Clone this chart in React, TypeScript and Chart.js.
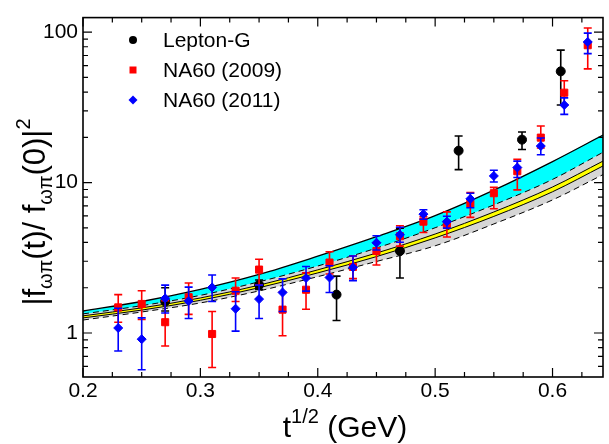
import { useEffect, useRef } from 'react';
import { Chart, registerables } from 'chart.js';

Chart.register(...registerables);

const FONT = '"Liberation Sans", Arial, Helvetica, sans-serif';

// ---- theory bands (x in GeV, y = |F|^2) ----
const bandX = [0.2, 0.25, 0.3, 0.35, 0.4, 0.45, 0.5, 0.55, 0.6, 0.643];
const cyanTop = [1.40, 1.62, 1.95, 2.45, 3.24, 4.37, 6.03, 8.91, 13.8, 20.7];
const greyTop = [1.34, 1.52, 1.78, 2.19, 2.79, 3.67, 5.01, 7.11, 10.5, 15.9];
const yellowUpper = [1.30, 1.47, 1.71, 2.08, 2.63, 3.40, 4.55, 6.38, 9.35, 13.9];
const yellowLower = [1.26, 1.42, 1.65, 2.00, 2.51, 3.22, 4.29, 5.96, 8.69, 12.9];
const greyBottom = [1.22, 1.38, 1.585, 1.905, 2.37, 2.99, 3.80, 5.31, 7.67, 11.3];

// ---- Lepton-G ----
const leptonX = [0.27, 0.35, 0.416, 0.47, 0.52, 0.574, 0.607];
const leptonY = [1.62, 2.09, 1.80, 3.51, 16.3, 19.3, 54.9];
const leptonLo = [1.40, 1.95, 1.21, 2.32, 12.2, 16.6, 32.8];
const leptonHi = [2.00, 2.25, 2.39, 4.98, 20.4, 21.7, 76.0];

// ---- NA60 (2009) ----
const na09X = [0.23, 0.25, 0.27, 0.29, 0.31, 0.33, 0.35, 0.37, 0.39, 0.41, 0.43, 0.45, 0.47, 0.49, 0.51, 0.53, 0.55, 0.57, 0.59, 0.61, 0.63];
const na09Y = [1.48, 1.56, 1.18, 1.73, 0.985, 1.91, 2.64, 1.43, 1.94, 2.94, 2.75, 3.51, 4.4, 5.5, 5.31, 7.24, 8.5, 11.9, 19.9, 39.6, 81.9];
const na09Lo = [1.18, 1.23, 0.82, 1.33, 0.59, 1.62, 2.09, 0.96, 1.44, 2.47, 2.30, 2.83, 3.78, 4.66, 4.35, 5.87, 6.7, 8.95, 17.0, 32.8, 57.0];
const na09Hi = [1.80, 1.91, 1.64, 2.15, 1.39, 2.32, 3.09, 1.88, 2.51, 3.47, 3.25, 3.98, 5.16, 5.93, 6.39, 8.6, 9.3, 14.3, 23.8, 47.5, 106.6];

// ---- NA60 (2011) ----
const na11X = [0.23, 0.25, 0.27, 0.29, 0.31, 0.33, 0.35, 0.37, 0.39, 0.41, 0.43, 0.45, 0.47, 0.49, 0.51, 0.53, 0.55, 0.57, 0.59, 0.61, 0.63];
const na11Y = [1.08, 0.91, 1.70, 1.63, 2.01, 1.45, 1.68, 1.86, 2.32, 2.34, 2.73, 3.98, 4.5, 6.17, 5.5, 7.8, 11.07, 12.6, 17.5, 32.8, 86.1];
const na11Lo = [0.76, 0.57, 1.36, 1.25, 1.62, 1.03, 1.25, 1.39, 1.90, 1.86, 2.23, 3.56, 4.01, 5.7, 4.98, 6.8, 10.1, 10.8, 15.3, 28.4, 72.0];
const na11Hi = [1.46, 1.26, 2.08, 2.02, 2.43, 1.88, 2.08, 2.29, 2.77, 2.80, 3.25, 4.43, 5.05, 6.6, 5.98, 8.5, 12.07, 13.9, 19.8, 36.6, 98.6];

// ---- axes ----
const xMin = 0.2;
const xMax = 0.643;
const yMin = 0.51;
const yMax = 125;
const xMajorTicks = [0.2, 0.3, 0.4, 0.5, 0.6];
const xMinorTicks = [0.225, 0.25, 0.275, 0.325, 0.35, 0.375, 0.425, 0.45, 0.475, 0.525, 0.55, 0.575, 0.625];
const yMajorTicks = [1, 10, 100];
const yMinorTicks = [0.6, 0.7, 0.8, 0.9, 2, 3, 4, 5, 6, 7, 8, 9, 20, 30, 40, 50, 60, 70, 80, 90];

const legendItems = [
  { label: 'Lepton-G', style: 'circle', color: '#000000' },
  { label: 'NA60 (2009)', style: 'rect', color: '#ff0000' },
  { label: 'NA60 (2011)', style: 'diamond', color: '#0000ff' },
];

const pts = (xs: number[], ys: number[]) => xs.map((x, i) => ({ x, y: ys[i] }));

type Seg = { t: string; size: number; dy: number };
function segWidth(ctx: CanvasRenderingContext2D, segs: Seg[]) {
  let w = 0;
  for (const s of segs) {
    ctx.font = `${s.size}px ${FONT}`;
    w += ctx.measureText(s.t).width;
  }
  return w;
}
function drawSegs(ctx: CanvasRenderingContext2D, segs: Seg[], x: number, y: number) {
  let cx = x;
  for (const s of segs) {
    ctx.font = `${s.size}px ${FONT}`;
    ctx.fillText(s.t, cx, y + s.dy);
    cx += ctx.measureText(s.t).width;
  }
}

function marker(ctx: CanvasRenderingContext2D, style: string, x: number, y: number, color: string) {
  ctx.fillStyle = color;
  ctx.beginPath();
  if (style === 'circle') {
    ctx.arc(x, y, 4, 0, Math.PI * 2);
  } else if (style === 'rect') {
    ctx.rect(x - 3.5, y - 3.5, 7, 7);
  } else {
    ctx.moveTo(x, y - 4.5);
    ctx.lineTo(x + 4.5, y);
    ctx.lineTo(x, y + 4.5);
    ctx.lineTo(x - 4.5, y);
    ctx.closePath();
  }
  ctx.fill();
}

const errorBarPlugin = {
  id: 'errorBars',
  beforeDatasetDraw(chart: any, args: any) {
    const ds: any = chart.data.datasets[args.index];
    if (!ds.errLow) return;
    const { ctx } = chart;
    const xs = chart.scales.x;
    const ys = chart.scales.y;
    ctx.save();
    ctx.strokeStyle = ds.errColor;
    ctx.lineWidth = 1.6;
    ds.data.forEach((p: any, i: number) => {
      const px = xs.getPixelForValue(p.x);
      const yl = ys.getPixelForValue(ds.errLow[i]);
      const yh = ys.getPixelForValue(ds.errHigh[i]);
      ctx.beginPath();
      ctx.moveTo(px, yl);
      ctx.lineTo(px, yh);
      ctx.moveTo(px - 4, yl);
      ctx.lineTo(px + 4, yl);
      ctx.moveTo(px - 4, yh);
      ctx.lineTo(px + 4, yh);
      ctx.stroke();
    });
    ctx.restore();
  },
};

const framePlugin = {
  id: 'frame',
  afterDatasetsDraw(chart: any) {
    const { ctx, chartArea: a } = chart;
    const xs = chart.scales.x;
    const ys = chart.scales.y;
    ctx.save();
    ctx.strokeStyle = '#000';
    ctx.lineWidth = 1.2;
    ctx.beginPath();
    const xt = (v: number, len: number) => {
      const px = xs.getPixelForValue(v);
      ctx.moveTo(px, a.bottom);
      ctx.lineTo(px, a.bottom - len);
      ctx.moveTo(px, a.top);
      ctx.lineTo(px, a.top + len);
    };
    const yt = (v: number, len: number) => {
      const py = ys.getPixelForValue(v);
      ctx.moveTo(a.left, py);
      ctx.lineTo(a.left + len, py);
      ctx.moveTo(a.right, py);
      ctx.lineTo(a.right - len, py);
    };
    xMajorTicks.forEach((v) => xt(v, 9));
    xMinorTicks.forEach((v) => xt(v, 5));
    yMajorTicks.forEach((v) => yt(v, 9));
    yMinorTicks.forEach((v) => yt(v, 5));
    ctx.stroke();
    ctx.lineWidth = 1.6;
    ctx.strokeRect(a.left, a.top, a.right - a.left, a.bottom - a.top);
    ctx.restore();
  },
  afterDraw(chart: any) {
    const { ctx, chartArea: a } = chart;
    ctx.save();
    ctx.fillStyle = '#000';
    ctx.textBaseline = 'alphabetic';
    ctx.textAlign = 'left';
    // x title
    const xSegs: Seg[] = [
      { t: 't', size: 30, dy: 0 },
      { t: '1/2', size: 20, dy: -14 },
      { t: ' (GeV)', size: 30, dy: 0 },
    ];
    const xw = segWidth(ctx, xSegs);
    drawSegs(ctx, xSegs, (a.left + a.right) / 2 + 2 - xw / 2, 437);
    // y title
    const ySegs: Seg[] = [
      { t: '|f', size: 31, dy: 0 },
      { t: 'ωπ', size: 20, dy: 7 },
      { t: '(t)/ f', size: 31, dy: 0 },
      { t: 'ωπ', size: 20, dy: 7 },
      { t: '(0)|', size: 31, dy: 0 },
      { t: '2', size: 20, dy: -15 },
    ];
    const yw = segWidth(ctx, ySegs);
    ctx.save();
    ctx.translate(45, 212);
    ctx.rotate(-Math.PI / 2);
    drawSegs(ctx, ySegs, -yw / 2, 0);
    ctx.restore();
    // legend
    ctx.textBaseline = 'middle';
    ctx.font = `21px ${FONT}`;
    legendItems.forEach((it, i) => {
      const y = 40 + i * 30;
      marker(ctx, it.style, 133, y, it.color);
      ctx.fillStyle = '#000';
      ctx.fillText(it.label, 163, y + 1);
    });
    ctx.restore();
  },
};

const lineBase = {
  type: 'line',
  pointRadius: 0,
  cubicInterpolationMode: 'monotone',
  borderColor: 'rgba(0,0,0,0)',
  borderWidth: 1,
  fill: false,
};

function buildDatasets() {
  const layers: any[] = [
    { ...lineBase, label: 'greyFill', data: pts(bandX, greyTop), fill: 1, backgroundColor: '#d6d6d6' }, // 0
    { ...lineBase, label: 'greyBottomRef', data: pts(bandX, greyBottom) }, // 1
    { ...lineBase, label: 'cyanFill', data: pts(bandX, cyanTop), fill: 0, backgroundColor: '#00ffff' }, // 2
    { ...lineBase, label: 'yellowUpper', data: pts(bandX, yellowUpper), borderColor: '#000', fill: 4, backgroundColor: '#ffff00' }, // 3
    { ...lineBase, label: 'yellowLower', data: pts(bandX, yellowLower), borderColor: '#000' }, // 4
    { ...lineBase, label: 'greyTopDash', data: pts(bandX, greyTop), borderColor: '#000', borderDash: [6, 4] }, // 5
    { ...lineBase, label: 'greyBottomDash', data: pts(bandX, greyBottom), borderColor: '#000', borderDash: [6, 4] }, // 6
    { ...lineBase, label: 'cyanTopLine', data: pts(bandX, cyanTop), borderColor: '#000', borderWidth: 1.3 }, // 7
    {
      type: 'line', label: 'Lepton-G', data: pts(leptonX, leptonY), showLine: false,
      pointStyle: 'circle', pointRadius: 4.5, pointBackgroundColor: '#000', pointBorderColor: '#000', pointBorderWidth: 1,
      errLow: leptonLo, errHigh: leptonHi, errColor: '#000',
    },
    {
      type: 'line', label: 'NA60 (2009)', data: pts(na09X, na09Y), showLine: false,
      pointStyle: 'rect', pointRadius: 5, pointBackgroundColor: '#ff0000', pointBorderColor: '#ff0000', pointBorderWidth: 1,
      errLow: na09Lo, errHigh: na09Hi, errColor: '#ff0000',
    },
    {
      type: 'line', label: 'NA60 (2011)', data: pts(na11X, na11Y), showLine: false,
      pointStyle: 'rectRot', pointRadius: 4.5, pointBackgroundColor: '#0000ff', pointBorderColor: '#0000ff', pointBorderWidth: 1,
      errLow: na11Lo, errHigh: na11Hi, errColor: '#0000ff',
    },
  ];
  const n = layers.length;
  return layers.map((d, i) => ({ ...d, order: n - i }));
}

export default function App() {
  const ref = useRef<HTMLCanvasElement>(null);
  useEffect(() => {
    const canvas = ref.current;
    if (!canvas) return;
    const isPow10 = (v: number) => v > 0 && Math.abs(Math.log10(v) - Math.round(Math.log10(v))) < 1e-6;
    const chart = new Chart(canvas, {
      type: 'line',
      data: { datasets: buildDatasets() as any },
      options: {
        responsive: false,
        animation: false,
        devicePixelRatio: 1,
        events: [],
        layout: { padding: { top: 10, right: 4, left: 0, bottom: 0 } },
        plugins: { legend: { display: false }, tooltip: { enabled: false } },
        scales: {
          x: {
            type: 'linear',
            min: xMin,
            max: xMax,
            grid: { display: false, drawTicks: false },
            border: { display: false },
            afterFit: (s: any) => { s.height = 67; },
            ticks: {
              stepSize: 0.1,
              includeBounds: false,
              autoSkip: false,
              maxRotation: 0,
              padding: 2,
              color: '#000',
              font: { family: FONT, size: 21 },
              callback: (v: any) => Number(v).toFixed(1),
            },
          },
          y: {
            type: 'logarithmic',
            min: yMin,
            max: yMax,
            grid: { display: false, drawTicks: false },
            border: { display: false },
            afterFit: (s: any) => { s.width = 83; },
            ticks: {
              autoSkip: false,
              padding: 5,
              color: '#000',
              font: { family: FONT, size: 21 },
              callback: (v: any) => (isPow10(Number(v)) ? String(Math.round(Number(v))) : ''),
            },
          },
        },
      } as any,
      plugins: [errorBarPlugin, framePlugin] as any,
    });
    return () => chart.destroy();
  }, []);
  return (
    <div style={{ position: 'fixed', left: 0, top: 0, width: 609, height: 444, background: '#fff' }}>
      <canvas ref={ref} width={609} height={444} style={{ display: 'block', width: 609, height: 444 }} />
    </div>
  );
}
